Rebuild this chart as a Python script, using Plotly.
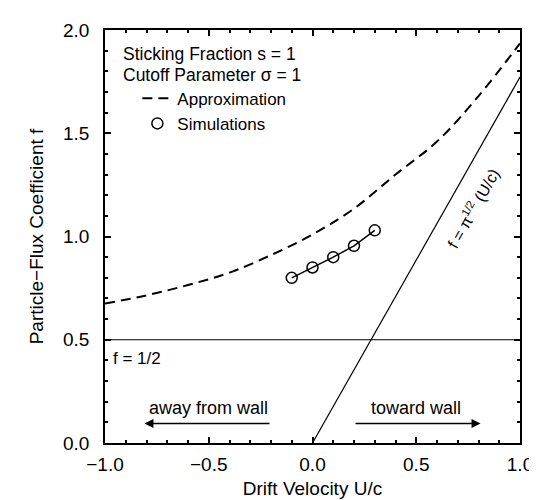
import plotly.graph_objects as go

# Approximation curve (dashed)
approx_x = [-1.0, -0.8, -0.6, -0.4, -0.2, 0.0, 0.2, 0.4, 0.6, 0.8, 1.0]
approx_y = [0.675, 0.715, 0.765, 0.825, 0.91, 1.01, 1.135, 1.30, 1.46, 1.68, 1.935]

# Simulations
sim_x = [-0.1, 0.0, 0.1, 0.2, 0.3]
sim_y = [0.80, 0.85, 0.90, 0.955, 1.03]

# f = pi^(1/2) (U/c) line
lin_x = [0.0, 1.0]
lin_y = [0.0, 1.772]

# f = 1/2 line
half_x = [-1.0, 1.0]
half_y = [0.5, 0.5]

FONT = "Liberation Sans, Arial, Helvetica, sans-serif"
TXT = 18

fig = go.Figure()
fig.add_trace(go.Scatter(x=half_x, y=half_y, mode="lines",
                         line=dict(color="black", width=1.2), showlegend=False))
fig.add_trace(go.Scatter(x=lin_x, y=lin_y, mode="lines",
                         line=dict(color="black", width=1.2), showlegend=False))
fig.add_trace(go.Scatter(x=approx_x, y=approx_y, mode="lines", name="Approximation",
                         line=dict(color="black", width=2, dash="10px,6px", shape="spline")))
fig.add_trace(go.Scatter(x=sim_x, y=sim_y, mode="lines",
                         line=dict(color="black", width=1.5), showlegend=False))
fig.add_trace(go.Scatter(x=sim_x, y=sim_y, mode="markers", name="Simulations",
                         marker=dict(symbol="circle-open", size=11, color="black",
                                     line=dict(width=1.5, color="black"))))

ann = []
ann.append(dict(x=-0.922, y=1.882, xref="x", yref="y", text="Sticking Fraction s = 1",
                showarrow=False, xanchor="left", yanchor="middle", font=dict(size=17.5)))
ann.append(dict(x=-0.922, y=1.784, xref="x", yref="y", text="Cutoff Parameter σ = 1",
                showarrow=False, xanchor="left", yanchor="middle", font=dict(size=17.5)))
ann.append(dict(x=-0.97, y=0.41, xref="x", yref="y", text="f = 1/2",
                showarrow=False, xanchor="left", yanchor="middle", font=dict(size=17)))
ann.append(dict(x=-0.5, y=0.168, xref="x", yref="y", text="away from wall",
                showarrow=False, xanchor="center", yanchor="middle", font=dict(size=TXT)))
ann.append(dict(x=0.5, y=0.168, xref="x", yref="y", text="toward wall",
                showarrow=False, xanchor="center", yanchor="middle", font=dict(size=TXT)))
ann.append(dict(x=-0.81, y=0.095, ax=-0.2, ay=0.095, xref="x", yref="y", axref="x", ayref="y",
                text="", showarrow=True, arrowhead=2, arrowsize=1.2, arrowwidth=1.5,
                arrowcolor="black"))
ann.append(dict(x=0.81, y=0.095, ax=0.2, ay=0.095, xref="x", yref="y", axref="x", ayref="y",
                text="", showarrow=True, arrowhead=2, arrowsize=1.2, arrowwidth=1.5,
                arrowcolor="black"))
ann.append(dict(x=0.773, y=1.136, xref="x", yref="y", text="f = π<sup>1/2</sup> (U/c)",
                showarrow=False, textangle=-60.6, font=dict(size=16)))

axis_common = dict(showgrid=False, zeroline=False, showline=True, linecolor="black",
                   linewidth=1.5, mirror="ticks", ticks="inside", ticklen=6, tickwidth=1.5,
                   tickcolor="black", tickfont=dict(size=19, color="black"),
                   minor=dict(ticks="inside", ticklen=3, tickwidth=1.5, tickcolor="black",
                              dtick=0.1))

fig.update_layout(
    width=537, height=500,
    margin=dict(l=97, r=23, t=18, b=63),
    plot_bgcolor="white", paper_bgcolor="white",
    font=dict(family=FONT, color="black"),
    annotations=ann,
    legend=dict(x=0.078, y=0.877, xanchor="left", yanchor="top",
                bgcolor="rgba(0,0,0,0)", font=dict(size=17), tracegroupgap=0,
                itemwidth=30),
    xaxis=dict(range=[-1, 1], dtick=0.5, tickformat=".1f", ticklabelstandoff=3,
               title=dict(text="Drift Velocity U/c", font=dict(size=19), standoff=8),
               **axis_common),
    yaxis=dict(range=[0, 2], dtick=0.5, tickformat=".1f", ticklabelstandoff=10,
               title=dict(text="Particle−Flux Coefficient f", font=dict(size=19), standoff=14),
               **axis_common),
)

fig.write_html("out.html")
